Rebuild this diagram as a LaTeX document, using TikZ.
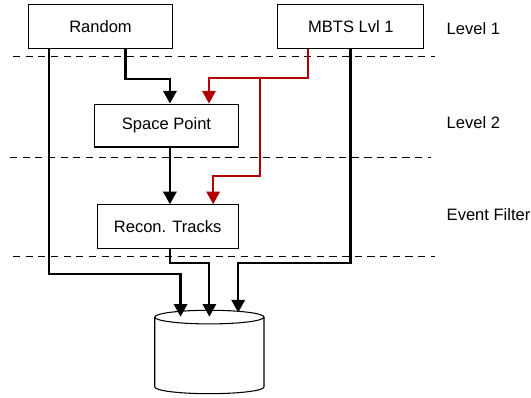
\documentclass[tikz,border=0pt]{standalone}
\usepackage{fontspec}
\setmainfont{Liberation Sans}
\usetikzlibrary{arrows.meta}

\definecolor{trigred}{HTML}{B20000}

\begin{document}
\begin{tikzpicture}[line width=1.6pt,>={Triangle[length=9.5pt,width=10pt]},
  box/.style={draw,line width=0.8pt,minimum width=3.82cm,minimum height=1.16cm,font=\fontsize{12.4}{14}\selectfont},
  lvl/.style={anchor=west,inner sep=0pt,font=\fontsize{12.4}{14}\selectfont},
  sep/.style={line width=0.7pt,dash pattern=on 5.3pt off 4.2pt}]
  \useasboundingbox (0,0) rectangle (14.0,-10.47);
  % separacion entre niveles
  \draw[sep] (0.34,-1.50)--(11.47,-1.50);
  \draw[sep] (0.26,-4.16)--(11.36,-4.16);
  \draw[sep] (0.34,-6.75)--(11.47,-6.75);
  \node[lvl] (l1) at (11.75,-0.76){Level 1};
  \node[lvl] (l2) at (11.75,-3.24){Level 2};
  \node[lvl] (ef) at (11.75,-5.67){Event Filter};
  % cajas
  \node[box] (rnd) at (2.65,-0.71){Random};
  \node[box,minimum width=3.85cm] (mbts) at (9.25,-0.71){MBTS Lvl 1};
  \node[box,minimum height=1.13cm] (sp) at (4.39,-3.31){Space Point};
  \node[box,minimum width=3.72cm] (rec) at (4.42,-5.98){Recon. Tracks};
  % disco de salida
  \draw[line width=0.8pt] (5.52,-8.36) ellipse (1.44 and 0.18);
  \draw[line width=0.8pt] (4.08,-8.36)--(4.08,-10.20) arc[start angle=180,end angle=360,x radius=1.44,y radius=0.18]--(6.96,-8.36);
  \coordinate (dbA) at (4.76,-8.35);
  \coordinate (dbB) at (5.52,-8.35);
  \coordinate (dbC) at (6.28,-8.24);
  % flujo negro
  \draw[->] ([xshift=-1.35cm]rnd.south) |- (4.76,-7.23) -- (dbA);
  \draw[->] ([xshift=0.66cm]rnd.south) -- ++(0,-0.77) -| ([xshift=0.09cm]sp.north);
  \draw[->] ([xshift=0.09cm]sp.south) -- ([xshift=0.06cm]rec.north);
  \draw[->] ([xshift=0.06cm]rec.south) |- (5.52,-6.94) -- (dbB);
  \draw[->] ([xshift=-0.01cm]mbts.south) |- (6.28,-6.94) -- (dbC);
  % trigger MBTS (rojo)
  \coordinate (split) at (6.85,-2.06);
  \draw[->,trigred] ([xshift=-1.14cm]mbts.south) |- (split) -- (6.85,-4.63) -| ([xshift=1.20cm]rec.north);
  \draw[->,trigred] (split) -| ([xshift=1.12cm]sp.north);
\end{tikzpicture}
\end{document}
